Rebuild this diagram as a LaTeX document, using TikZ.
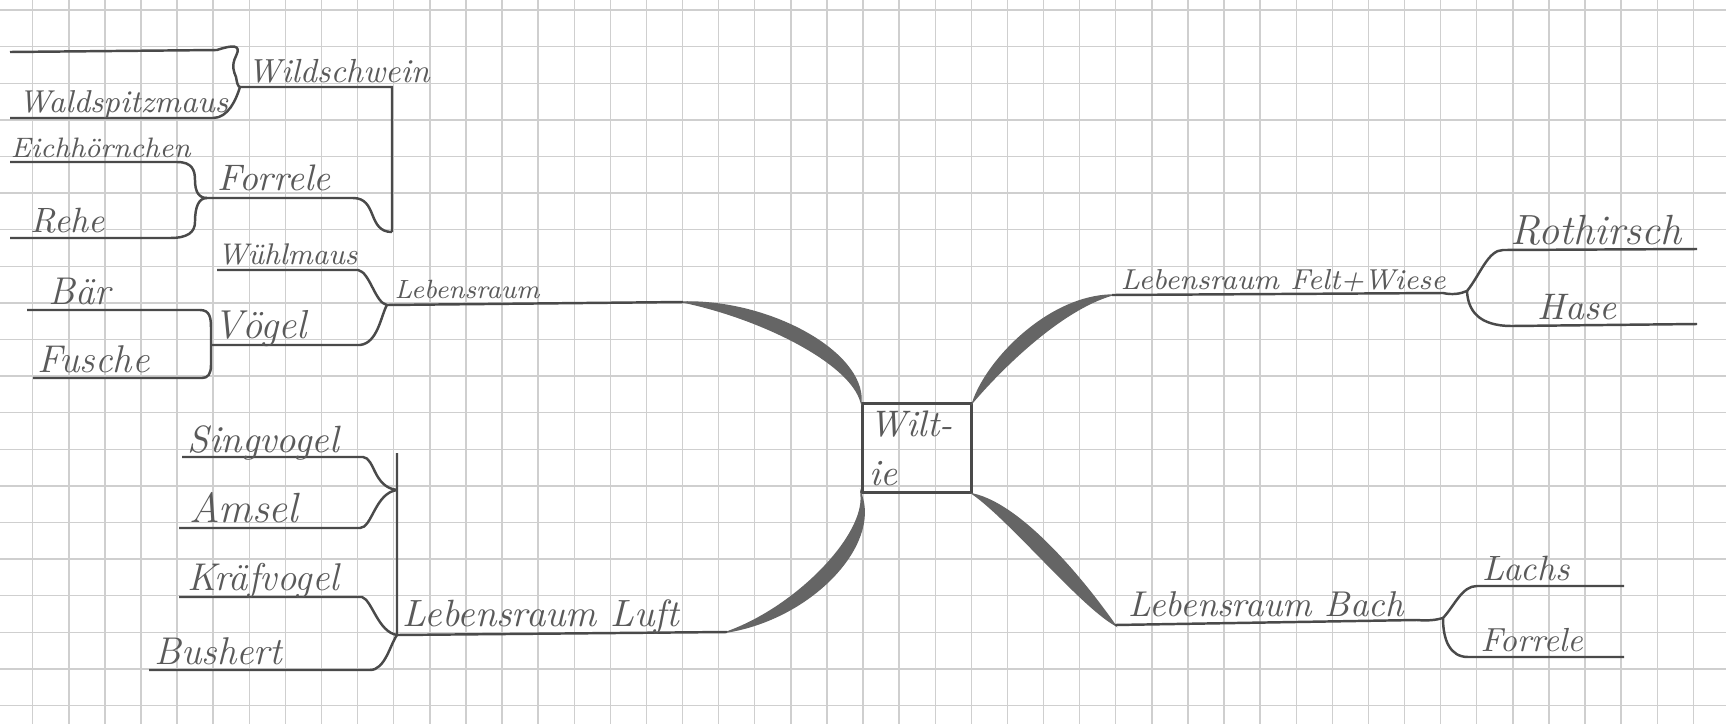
\documentclass[tikz,border=0pt]{standalone}
\usepackage{fontspec}
\usetikzlibrary{positioning}
\definecolor{pencil}{HTML}{4A4A4A}
\definecolor{graphite}{HTML}{5A5A5A}
\definecolor{gridgray}{HTML}{CFCFCF}

\begin{document}
\begin{tikzpicture}[
    x=0.01cm, y=-0.01cm,
    % Styles
    gridline/.style={draw=gridgray, line width=0.4pt},
    line/.style={draw=pencil, line width=0.7pt},
    lead/.style={fill=pencil!85, draw=pencil!85, line width=0.4pt},
    word/.style={font=\itshape\fontsize{#1}{#1}\selectfont, text=graphite, inner sep=0pt, anchor=base west},
    word/.default=10,
    centre/.style={draw=pencil, line width=0.8pt, minimum width=1.07cm, minimum height=0.73cm,
        text width=0.95cm, align=left, inner sep=2pt, text=graphite,
        font=\itshape\fontsize{10.5}{14}\selectfont},
]

    % Paper
    \useasboundingbox (0,0) rectangle (1726,724);
    \fill[white] (0,0) rectangle (1726,724);
    \foreach \gx in {1,...,47}
        \draw[gridline] ({-3.4+36.1*\gx},0) -- ({-3.4+36.1*\gx},724);
    \foreach \gy in {0,...,19}
        \draw[gridline] (0,{10+36.6*\gy}) -- (1726,{10+36.6*\gy});

    % Line ends and junctions, upper left
    \coordinate (top-l) at (10,52);
    \coordinate (top-r) at (217,50);
    \coordinate (ws-j) at (240,87);
    \coordinate (ws-r) at (392,87);
    \coordinate (ws-end) at (392,232);
    \coordinate (wsm-l) at (10,118);
    \coordinate (wsm-r) at (213,118);
    \coordinate (eich-l) at (10,162);
    \coordinate (eich-r) at (177,162);
    \coordinate (rehe-l) at (10,238);
    \coordinate (rehe-r) at (170,238);
    \coordinate (forl-j) at (207,198);
    \coordinate (forl-r) at (353,198);
    \coordinate (wuehl-l) at (217,270);
    \coordinate (wuehl-r) at (358,270);
    \coordinate (baer-l) at (27,310);
    \coordinate (baer-r) at (200,310);
    \coordinate (fusche-l) at (33,378);
    \coordinate (fusche-r) at (202,378);
    \coordinate (voegel-j) at (211,345);
    \coordinate (voegel-r) at (360,345);
    \coordinate (wald-j) at (387,305);
    \coordinate (wald-r) at (683,302);

    % Line ends and junctions, lower left
    \coordinate (sing-l) at (182,457);
    \coordinate (sing-r) at (363,457);
    \coordinate (amsel-l) at (179,528);
    \coordinate (amsel-r) at (360,528);
    \coordinate (vogel-j) at (397,490);
    \coordinate (luft-top) at (397,453);
    \coordinate (kraef-l) at (179,597);
    \coordinate (kraef-r) at (362,597);
    \coordinate (bush-l) at (149,670);
    \coordinate (bush-r) at (370,670);
    \coordinate (luft-j) at (397,635);
    \coordinate (luft-r) at (727,632);

    % Line ends and junctions, right
    \coordinate (feld-l) at (1112,295);
    \coordinate (feld-r) at (1443,293);
    \coordinate (feld-j) at (1467,291);
    \coordinate (roth-l) at (1503,250);
    \coordinate (roth-r) at (1697,249);
    \coordinate (hase-l) at (1512,326);
    \coordinate (hase-r) at (1697,324);
    \coordinate (bach-l) at (1115,625);
    \coordinate (bach-r) at (1417,620);
    \coordinate (bach-j) at (1443,618);
    \coordinate (lachs-l) at (1477,586);
    \coordinate (lachs-r) at (1624,586);
    \coordinate (forr-l) at (1468,657);
    \coordinate (forr-r) at (1624,657);

    % Centre
    \node[centre] (wt) at (917,448) {Wilt-\\ie};

    % Thick pencil strokes
    \fill[lead] (wald-r) .. controls (760,318) and (850,362) .. (wt.north west)
        .. controls (864,352) and (770,300) .. (wald-r) -- cycle;
    \fill[lead] (wt.south west) .. controls (866,535) and (797,607) .. (luft-r)
        .. controls (812,618) and (880,545) .. (wt.south west) -- cycle;
    \fill[lead] (wt.north east) .. controls (1000,370) and (1060,310) .. (feld-l)
        .. controls (1050,296) and (988,358) .. (wt.north east) -- cycle;
    \fill[lead] (wt.south east) .. controls (1010,520) and (1080,605) .. (bach-l)
        .. controls (1092,592) and (1026,506) .. (wt.south east) -- cycle;

    % Upper left branches
    \draw[line] (top-l) -- (top-r) .. controls (232,45) and (242,44) .. (236,56)
        .. controls (231,66) and (234,72) .. (236,77) .. controls (237,83) and (238,87) .. (ws-j);
    \draw[line] (wsm-l) -- (wsm-r) .. controls (228,118) and (236,100) .. (ws-j) -- (ws-r) -- (ws-end);
    \draw[line] (eich-l) -- (eich-r) .. controls (192,162) and (195,170) .. (195,180)
        .. controls (195,192) and (199,198) .. (forl-j) -- (forl-r)
        .. controls (378,198) and (367,232) .. (ws-end);
    \draw[line] (rehe-l) -- (rehe-r) .. controls (188,238) and (195,232) .. (195,222)
        .. controls (195,206) and (199,198) .. (forl-j);
    \draw[line] (wuehl-l) -- (wuehl-r) .. controls (370,272) and (375,303) .. (wald-j) -- (wald-r);
    \draw[line] (baer-l) -- (baer-r) .. controls (210,310) and (211,318) .. (211,328) -- (voegel-j)
        -- (211,365) .. controls (211,374) and (208,378) .. (fusche-r) -- (fusche-l);
    \draw[line] (voegel-j) -- (voegel-r) .. controls (378,343) and (381,315) .. (wald-j);

    % Lower left branches
    \draw[line] (sing-l) -- (sing-r) .. controls (375,458) and (373,487) .. (vogel-j);
    \draw[line] (amsel-l) -- (amsel-r) .. controls (372,528) and (375,493) .. (vogel-j);
    \draw[line] (luft-top) -- (luft-j) -- (luft-r);
    \draw[line] (kraef-l) -- (kraef-r) .. controls (372,600) and (378,632) .. (luft-j);
    \draw[line] (bush-l) -- (bush-r) .. controls (385,670) and (390,645) .. (luft-j);

    % Right branches
    \draw[line] (feld-l) -- (feld-r) .. controls (1452,295) and (1460,294) .. (feld-j)
        .. controls (1480,275) and (1488,250) .. (roth-l) -- (roth-r);
    \draw[line] (feld-j) .. controls (1468,310) and (1478,326) .. (hase-l) -- (hase-r);
    \draw[line] (bach-l) -- (bach-r) .. controls (1428,621) and (1436,620) .. (bach-j)
        .. controls (1455,605) and (1462,586) .. (lachs-l) -- (lachs-r);
    \draw[line] (bach-j) .. controls (1443,640) and (1450,657) .. (forr-l) -- (forr-r);

    % Words
    \node[word=9.5] (ws) at (247,82) {Wildschwein};
    \node[word=9] (wsm) at (18,112) {Waldspitzmaus};
    \node[word=8] (eich) at (10,157) {Eichhörnchen};
    \node[word=10] (rehe) at (30,232) {Rehe};
    \node[word=10.5] (forl) at (217,190) {Forrele};
    \node[word=8.5] (wuehl) at (217,264) {Wühlmaus};
    \node[word=11] (baer) at (48,304) {Bär};
    \node[word=11.5] (voegel) at (213,338) {Vögel};
    \node[word=11] (fusche) at (37,372) {Fusche};
    \node[word=7.5] (wald) at (394,298) {Lebensraum};

    \node[word=10.8] (sing) at (187,452) {Singvogel};
    \node[word=12] (amsel) at (189,522) {Amsel};
    \node[word=11] (kraef) at (187,590) {Kräfvogel};
    \node[word=11] (bush) at (154,664) {Bushert};
    \node[word=10.8] (luft) at (402,626) {Lebensraum Luft};

    \node[word=8.2] (feld) at (1120,289) {Lebensraum Felt+Wiese};
    \node[word=12] (roth) at (1510,244) {Rothirsch};
    \node[word=10.5] (hase) at (1537,319) {Hase};
    \node[word=10.2] (bach) at (1128,616) {Lebensraum Bach};
    \node[word=10] (lachs) at (1482,580) {Lachs};
    \node[word=9.5] (forr) at (1480,651) {Forrele};

\end{tikzpicture}
\end{document}
